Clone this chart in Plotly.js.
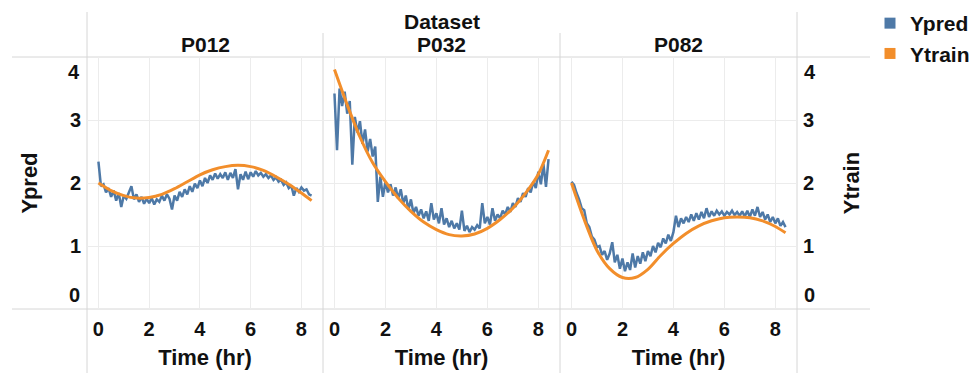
<!DOCTYPE html>
<html>
<head>
<meta charset="utf-8">
<script src="https://cdn.plot.ly/plotly-3.0.1.min.js"></script>
<style>html,body{margin:0;padding:0;background:#fff;overflow:hidden}#chart{width:974px;height:373px}</style>
</head>
<body>
<div id="chart"></div>
<script>
// ---- data ----
const datasets = ["P012", "P032", "P082"];
const seriesNames = ["Ypred", "Ytrain"];
const xTicks = [0, 2, 4, 6, 8];
const yTicks = [0, 1, 2, 3, 4];

// time (hr) for the prediction series
const timePred = [0,0.1,0.2,0.3,0.4,0.5,0.6,0.7,0.8,0.9,1.0,1.1,1.2,1.3,1.4,1.5,1.6,1.7,1.8,1.9,
  2.0,2.1,2.2,2.3,2.4,2.5,2.6,2.7,2.8,2.9,3.0,3.1,3.2,3.3,3.4,3.5,3.6,3.7,3.8,3.9,
  4.0,4.1,4.2,4.3,4.4,4.5,4.6,4.7,4.8,4.9,5.0,5.1,5.2,5.3,5.4,5.5,5.6,5.7,5.8,5.9,
  6.0,6.1,6.2,6.3,6.4,6.5,6.6,6.7,6.8,6.9,7.0,7.1,7.2,7.3,7.4,7.5,7.6,7.7,7.8,7.9,
  8.0,8.1,8.2,8.3,8.4];
// time (hr) for the training curves
const timeTrain = [0,0.5,1,1.5,2,2.5,3,3.5,4,4.5,5,5.5,6,6.5,7,7.5,8,8.4];

const ypredP012 = [2.34,1.95,1.98,1.85,1.92,1.78,1.88,1.72,1.84,1.62,1.80,1.75,1.85,1.95,1.74,1.82,1.70,1.78,1.67,1.75,
  1.68,1.76,1.66,1.74,1.70,1.80,1.72,1.82,1.75,1.58,1.80,1.72,1.86,1.78,1.90,1.82,1.95,1.86,1.99,1.92,
  2.04,1.95,2.08,2.00,2.12,2.05,2.15,2.07,2.14,2.08,2.17,2.05,2.16,2.08,2.22,1.90,2.14,2.05,2.18,2.06,
  2.17,2.10,2.19,2.12,2.16,2.10,2.14,2.08,2.12,2.05,2.09,2.02,2.05,1.97,2.01,1.92,1.96,1.80,1.92,1.86,
  1.93,1.88,1.90,1.82,1.80];
const ypredP032 = [3.42,2.52,3.50,3.22,3.45,3.10,3.30,2.29,3.05,2.80,2.98,2.62,2.85,2.50,2.70,2.42,2.58,1.70,2.10,1.78,
  2.02,1.85,1.98,1.80,1.93,1.75,1.90,1.68,1.80,1.58,1.74,1.52,1.62,1.48,1.58,1.44,1.55,1.40,1.68,1.42,
  1.52,1.36,1.60,1.34,1.44,1.30,1.40,1.28,1.36,1.26,1.56,1.24,1.32,1.22,1.30,1.26,1.33,1.28,1.68,1.36,
  1.46,1.34,1.60,1.40,1.50,1.44,1.56,1.50,1.62,1.54,1.68,1.62,1.76,1.70,1.84,1.78,1.92,1.85,2.02,1.92,
  2.18,1.98,2.30,1.94,2.38];
const ypredP082 = [2.02,1.97,1.84,1.74,1.60,1.57,1.36,1.30,1.15,1.10,0.98,1.00,0.86,0.92,0.78,0.88,1.06,0.74,0.86,0.64,
  0.80,0.60,0.74,0.62,0.88,0.66,0.84,0.72,0.90,0.76,0.92,0.84,1.00,0.90,1.05,0.98,1.12,1.04,1.18,1.08,
  1.22,1.48,1.30,1.44,1.36,1.46,1.38,1.50,1.40,1.52,1.42,1.54,1.44,1.60,1.46,1.55,1.48,1.56,1.50,1.55,
  1.48,1.54,1.50,1.56,1.49,1.54,1.48,1.55,1.47,1.56,1.46,1.58,1.48,1.62,1.46,1.54,1.42,1.50,1.38,1.46,
  1.36,1.44,1.32,1.38,1.30];

const ytrainP012 = [2.00,1.88,1.80,1.76,1.77,1.82,1.91,2.02,2.13,2.21,2.26,2.28,2.26,2.20,2.10,1.98,1.84,1.72];
const ytrainP032 = [3.80,3.24,2.73,2.32,2.02,1.76,1.55,1.38,1.26,1.18,1.16,1.19,1.28,1.42,1.60,1.84,2.14,2.52];
const ytrainP082 = [2.00,1.42,0.93,0.64,0.50,0.50,0.63,0.85,1.04,1.20,1.32,1.40,1.45,1.46,1.45,1.40,1.31,1.21];

const ypredAll = [ypredP012, ypredP032, ypredP082];
const ytrainAll = [ytrainP012, ytrainP032, ytrainP082];

// ---- styling ----
const BLUE = "#4e79a7", ORANGE = "#f28e2b";
const FONT = "Liberation Sans, Arial, sans-serif";
const LINEC = "#d6d6d6", GRIDC = "#ececec";
const W = 974, H = 373, ML = 87, MR = 177, MT = 57, MB = 64;
const PW = W - ML - MR, PH = H - MT - MB;
const px = v => (v - ML) / PW;      // pixel -> paper x
const py = v => (H - MB - v) / PH;  // pixel -> paper y
const doms = [[0, px(323)], [px(323), px(560)], [px(560), 1]];
const xr = [-0.45, 8.85];

const traces = [];
const xAx = ["x", "x2", "x3"], yAx = ["y", "y2", "y3"], yTrainAx = ["y", "y2", "y4"];
for (let i = 0; i < 3; i++) {
  traces.push({x: timePred, y: ypredAll[i], xaxis: xAx[i], yaxis: yAx[i], type: "scatter", mode: "lines",
    name: seriesNames[0], showlegend: false, line: {color: BLUE, width: 2.5}, hoverinfo: "skip"});
}
for (let i = 0; i < 3; i++) {
  traces.push({x: timeTrain, y: ytrainAll[i], xaxis: xAx[i], yaxis: yTrainAx[i], type: "scatter", mode: "lines",
    name: seriesNames[1], showlegend: false, line: {color: ORANGE, width: 3, shape: "spline", smoothing: 0.8}, hoverinfo: "skip"});
}
// legend entries (square swatches)
traces.push({x: [null], y: [null], type: "scatter", mode: "markers", name: seriesNames[0], showlegend: true,
  marker: {symbol: "square", size: 11, color: BLUE}});
traces.push({x: [null], y: [null], type: "scatter", mode: "markers", name: seriesNames[1], showlegend: true,
  marker: {symbol: "square", size: 11, color: ORANGE}});

const tickFont = {family: FONT, size: 20, color: "#111", weight: "bold"};
const titleFont = {family: FONT, size: 22, color: "#111", weight: "bold"};
const headFont = {family: FONT, size: 21, color: "#111", weight: "bold"};
const midLabels = yTicks.map(v => (v === 0 || v === yTicks[yTicks.length - 1]) ? "" : String(v));

function xaxisDef(i) {
  return {domain: doms[i], anchor: yAx[i], range: xr, tickvals: xTicks, ticktext: xTicks.map(String),
    showgrid: true, gridcolor: GRIDC, gridwidth: 1, zeroline: false, showline: false, ticks: "",
    tickfont: tickFont, ticklabelstandoff: 6, fixedrange: true, automargin: false,
    title: {text: "Time (hr)", font: titleFont, standoff: 10}};
}
function yaxisDef(i) {
  return {domain: [0, 1], anchor: xAx[i], range: [0, 4], tickvals: yTicks, ticktext: midLabels,
    showgrid: true, gridcolor: GRIDC, zeroline: false, showline: false, ticks: "",
    showticklabels: i === 0, tickfont: tickFont, ticklabelstandoff: 5, fixedrange: true, automargin: false,
    title: i === 0 ? {text: "Ypred", font: titleFont, standoff: 26} : {text: ""}};
}

const annotations = [];
annotations.push({text: "Dataset", xref: "paper", yref: "paper", x: 0.5, y: py(21), xanchor: "center", yanchor: "middle",
  showarrow: false, font: headFont});
for (let i = 0; i < 3; i++) {
  annotations.push({text: datasets[i], xref: "paper", yref: "paper", x: (doms[i][0] + doms[i][1]) / 2, y: py(45),
    xanchor: "center", yanchor: "middle", showarrow: false, font: headFont});
}
// end tick labels, pulled inside the pane (as in the original)
const ends = [[yTicks[yTicks.length - 1], -15], [yTicks[0], 14]];
for (const [v, sh] of ends) {
  annotations.push({text: String(v), xref: "paper", yref: "y", x: 0, xshift: -5, y: v, yshift: sh,
    xanchor: "right", yanchor: "middle", showarrow: false, font: tickFont});
  annotations.push({text: String(v), xref: "paper", yref: "y4", x: 1, xshift: 5, y: v, yshift: sh,
    xanchor: "left", yanchor: "middle", showarrow: false, font: tickFont});
}

const L = (x0, y0, x1, y1) => ({type: "line", xref: "paper", yref: "paper", x0: px(x0), y0: py(y0), x1: px(x1), y1: py(y1),
  line: {color: LINEC, width: 1}, layer: "below"});
const shapes = [
  L(12, 57, 870, 57), L(12, 309, 870, 309),
  L(87, 12, 87, 373), L(797, 12, 797, 373),
  L(323, 33, 323, 373), L(560, 33, 560, 373)
];

const layout = {
  width: W, height: H,
  margin: {l: ML, r: MR, t: MT, b: MB, pad: 0, autoexpand: false},
  paper_bgcolor: "#fff", plot_bgcolor: "rgba(0,0,0,0)",
  font: {family: FONT, color: "#111"},
  showlegend: true,
  legend: {x: px(870), y: py(3), xanchor: "left", yanchor: "top", font: {family: FONT, size: 21, color: "#111", weight: "bold"},
    bgcolor: "rgba(0,0,0,0)", tracegroupgap: 0, itemwidth: 30},
  xaxis: xaxisDef(0), xaxis2: xaxisDef(1), xaxis3: xaxisDef(2),
  yaxis: yaxisDef(0), yaxis2: yaxisDef(1), yaxis3: yaxisDef(2),
  yaxis4: {overlaying: "y3", anchor: "x3", side: "right", range: [0, 4], tickvals: yTicks, ticktext: midLabels,
    showgrid: false, zeroline: false, showline: false, ticks: "", tickfont: tickFont, ticklabelstandoff: 5, fixedrange: true,
    automargin: false, title: {text: "Ytrain", font: titleFont, standoff: 30}},
  annotations: annotations,
  shapes: shapes
};

Plotly.newPlot("chart", traces, layout, {displayModeBar: false, staticPlot: true});
</script>
</body>
</html>
